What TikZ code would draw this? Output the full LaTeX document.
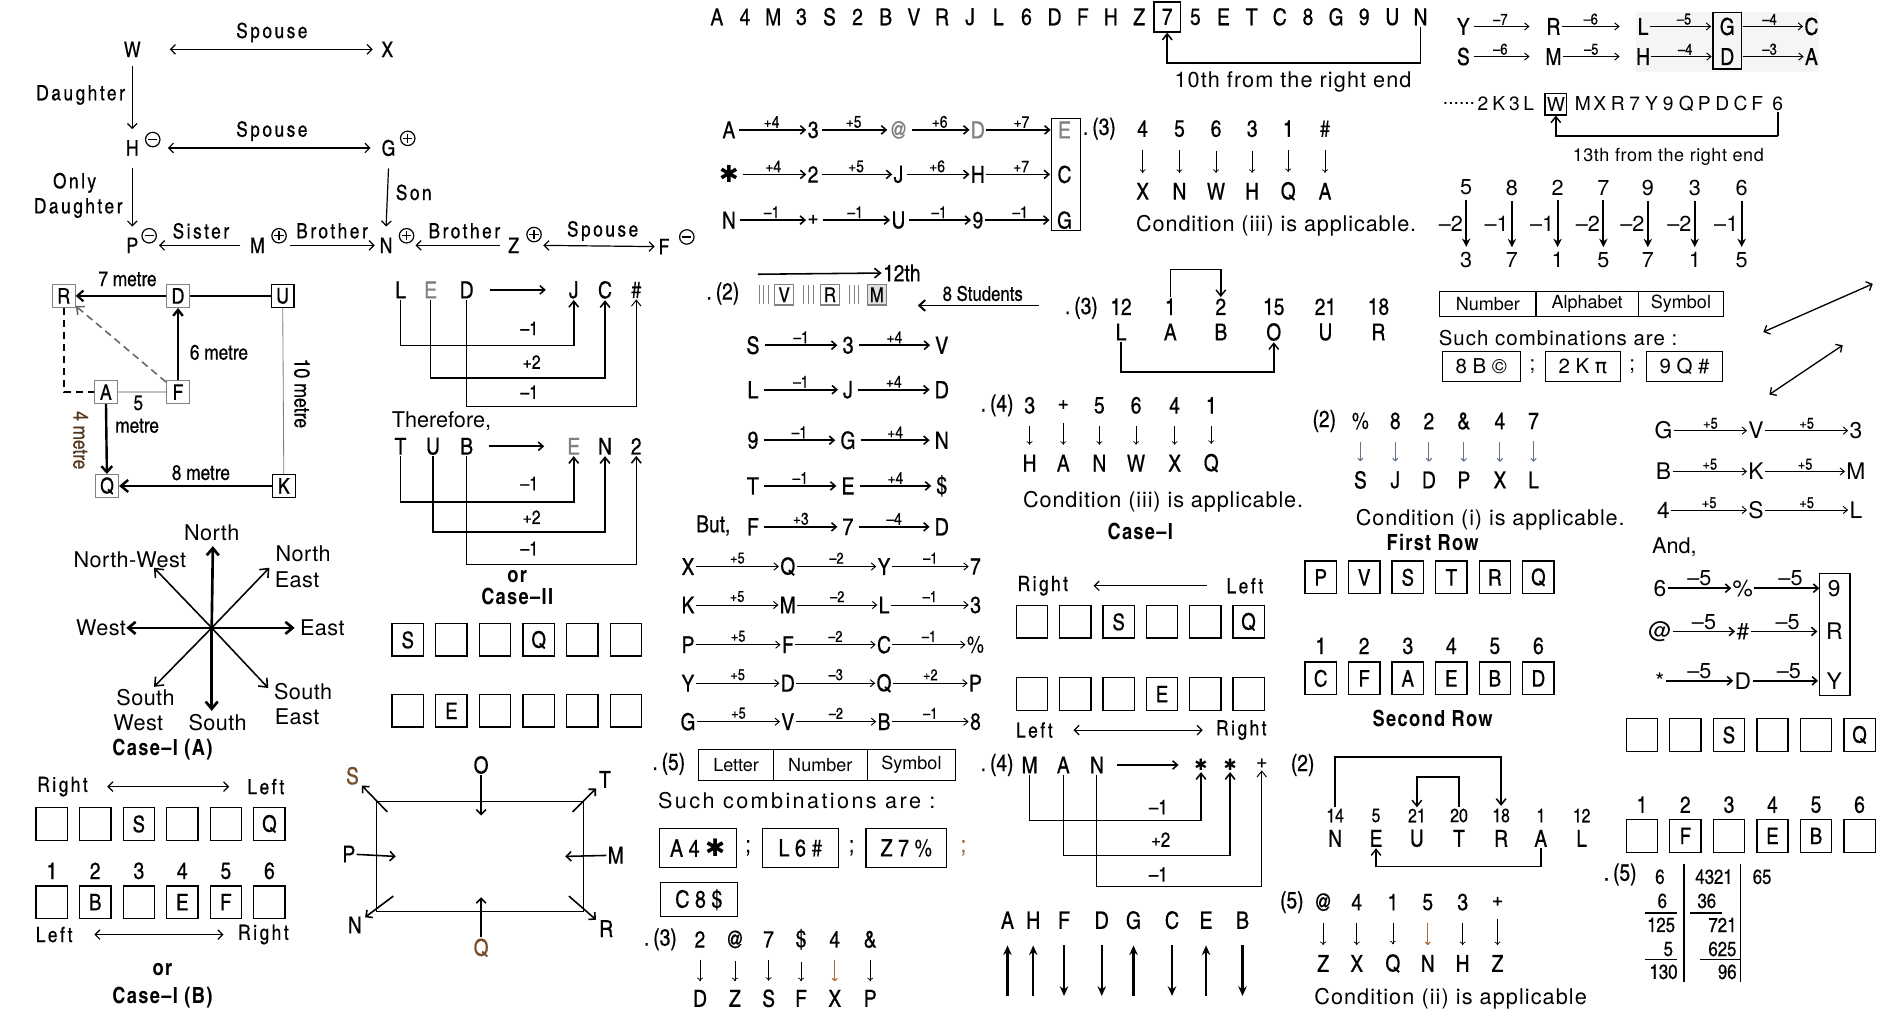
\documentclass[tikz,border=0pt]{standalone}
\usepackage{fontspec}
\setmainfont{TeX Gyre Heros}
\newfontfamily\cn[BoldFont=texgyreheroscn-bold.otf, UprightFeatures={FakeBold=0.4}]{texgyreheroscn-regular.otf}
\newfontfamily\djv{DejaVu Sans}
\usetikzlibrary{arrows.meta,calc}
\definecolor{dnblue}{RGB}{100,115,140}
\definecolor{brn}{RGB}{170,110,60}
\newcommand\myfs[1]{\fontsize{#1}{#1}\selectfont}
\newcommand\myls[1]{\addfontfeatures{LetterSpace=#1}}
\tikzset{
 every node/.style={inner sep=1pt},
 ch/.style={font=\cn\myfs{18}},
 chl/.style={font=\cn\myfs{19.5}},
 chs/.style={font=\cn\myfs{16}},
 sp/.style={font=\cn\myfs{17.5}\myls{12}},
 cb/.style={font=\cn\bfseries\myfs{18.5}\myls{6}},
 rg/.style={font=\myfs{#1}},
 rgs/.style 2 args={font=\myfs{#1}\myls{#2}},
 lb/.style={font=\cn\myfs{14}},
 lbs/.style={font=\cn\myfs{13}},
 bx/.style={draw, line width=1.1pt, minimum width=26pt, minimum height=27pt, inner sep=0pt, font=\cn\myfs{19}},
 sbx/.style={draw, line width=1pt, minimum width=19pt, minimum height=19pt, inner sep=0pt, font=\cn\myfs{18}},
 ar/.style={-{Straight Barb[length=4pt,width=8pt]}, line width=1pt},
 dar/.style={{Straight Barb[length=4pt,width=8pt]}-{Straight Barb[length=4pt,width=8pt]}, line width=1pt},
 car/.style={-{Straight Barb[length=4pt,width=7pt]}, line width=1.3pt},
 thar/.style={-{Straight Barb[length=3.5pt,width=6pt]}, line width=0.8pt},
 tar/.style={-{Stealth[length=8pt,width=7pt]}, line width=1.8pt},
 dn/.style={-{To[length=3pt,width=5pt]}, line width=0.6pt},
 br/.style={line width=1.3pt, -{Straight Barb[length=5pt,width=8pt]}},
 sgnm/.pic={\draw[line width=1pt] (0,0) circle (6pt); \draw[line width=1.2pt] (-3.8pt,0)--(3.8pt,0);},
 sgnp/.pic={\draw[line width=1pt] (0,0) circle (6pt); \draw[line width=1.1pt] (-3.8pt,0)--(3.8pt,0) (0,-3.8pt)--(0,3.8pt);},
}
\begin{document}
\begin{tikzpicture}[x=1pt,y=-1pt]
\fill[white] (0,0) rectangle (1568,847);
\useasboundingbox (0,0) rectangle (1568,847);

% ===== Family tree =====
\node[ch] (W) at (110,41) {W};
\node[ch] (X) at (322,41) {X};
\node[ch] (H) at (110,123) {H};
\node[ch] (G) at (323,123) {G};
\node[ch] (P) at (110,204) {P};
\node[ch] (M) at (214,204) {M};
\node[ch] (N) at (321,204) {N};
\node[ch] (Z) at (427,204) {Z};
\node[ch] (F) at (552,205) {F};
\node[sp] (ft1) at (226,27) {Spouse};
\node[sp] (ft2) at (226,109) {Spouse};
\node[sp] (ft3) at (67,79) {Daughter};
\node[sp] (ft4) at (62,152) {Only};
\node[sp] (ft5) at (65,173) {Daughter};
\node[sp] (ft6) at (344,160) {Son};
\node[sp] (ft7) at (167,192) {Sister};
\node[sp] (ft8) at (276,192) {Brother};
\node[sp] (ft9) at (386,192) {Brother};
\node[sp] (ft10) at (501,192) {Spouse};
\pic at (127,116) {sgnm};
\pic at (339,115) {sgnp};
\pic at (124,196) {sgnm};
\pic at (232,196) {sgnp};
\pic at (338,196) {sgnp};
\pic at (444,195) {sgnp};
\pic at (571,197) {sgnm};
\draw[dar] ([xshift=23pt]W.east) -- ([xshift=-6pt]X.west);
\draw[dar] ([xshift=23pt]H.east) -- ([xshift=-8pt]G.west);
\draw[ar] ([yshift=-6pt]W.south) -- ([yshift=8pt]H.north);
\draw[ar] ([yshift=-9pt]H.south) -- ([yshift=8pt]P.north);
\draw[ar] ([yshift=-9pt]G.south) -- ([yshift=8pt]N.north);
\draw[ar] ([xshift=-7pt]M.west) -- ([xshift=16pt]P.east);
\draw[ar] ([xshift=20pt]M.east) -- ([xshift=-3pt]N.west);
\draw[ar] ([xshift=-6pt]Z.west) -- ([xshift=18pt]N.east);
\draw[dar] ([xshift=19pt]Z.east) -- ([xshift=-2pt]F.west);

% ===== Distance diagram =====
\node[sbx, draw=gray] (bR) at (53,246) {R};
\node[sbx, draw=gray] (bD) at (148,246) {D};
\node[sbx] (bU) at (235,246) {U};
\node[sbx, draw=gray] (bA) at (88,326) {A};
\node[sbx, draw=gray] (bF) at (148,326) {F};
\node[sbx, draw=gray] (bQ) at (89,404) {Q};
\node[sbx] (bK) at (236,404) {K};
\draw[line width=1.8pt, -{Straight Barb[length=5pt,width=9pt]}] (bD) -- (bR);
\draw[line width=2pt] (bD) -- (bU);
\draw[line width=0.7pt, gray] (bU) -- (bK);
\draw[line width=2pt, -{Straight Barb[length=6pt,width=10pt]}] (bK) -- (bQ);
\draw[line width=2pt, -{Straight Barb[length=5pt,width=8pt]}] (bF) -- (bD);
\draw[dash pattern=on 6pt off 4pt, line width=1.3pt, gray!80!black, -{Straight Barb[length=5pt,width=9pt]}] (bF) -- (bR);
\draw[dash pattern=on 6pt off 4pt, line width=1.3pt] (bR.south) |- (bA.west);
\draw[line width=1.2pt, gray!50] (bA) -- (bF);
\draw[line width=2pt, -{Straight Barb[length=5pt,width=9pt]}] (bA) -- (bQ);
\node[font=\cn\myfs{17.5}] (dl1) at (106,232) {7 metre};
\node[font=\cn\myfs{17.5}] (dl2) at (182,293) {6 metre};
\node[font=\cn\myfs{18}, rotate=-90] (dl3) at (251,327) {10 metre};
\node[font=\cn\myfs{17.5}] (dl4) at (115,335) {5};
\node[font=\cn\myfs{17.5}] (dl5) at (114,354) {metre};
\node[font=\cn\myfs{17.5}, rotate=-90, text=brn!50!black] (dl6) at (67,366) {4 metre};
\node[font=\cn\myfs{17.5}] (dl7) at (167,393) {8 metre};

% ===== LED -> JC# =====
\node[chl] (l1) at (333,241) {L};
\node[chl, text=gray] (l2) at (358,241) {E};
\node[chl] (l3) at (388,241) {D};
\node[chl] (j1) at (477,241) {J};
\node[chl] (j2) at (503,241) {C};
\node[chl] (j3) at (529,241) {\#};
\draw[car, shorten <=12pt, shorten >=18pt] (l3) -- (j1);
\draw[br] (l1.south) -- ++(0,38) -| (j1.south);
\draw[br] (l2.south) -- ++(0,65) -| (j2.south);
\draw[br, line width=0.8pt] (l3.south) -- ++(0,89) -| (j3.south);
\node[chs] (lb1) at (440,273) {–1};
\node[chs] (lb2) at (442,301) {+2};
\node[chs] (lb3) at (440,326) {–1};
\node[rg=18] (thf) at (367,350) {Therefore,};
\node[chl] (u1) at (333,371) {T};
\node[chl] (u2) at (360,371) {U};
\node[chl] (u3) at (388,371) {B};
\node[chl, text=gray] (v1) at (477,371) {E};
\node[chl] (v2) at (503,371) {N};
\node[chl] (v3) at (529,371) {2};
\draw[car, shorten <=12pt, shorten >=18pt] (u3) -- (v1);
\draw[br] (u1.south) -- ++(0,38) -| (v1.south);
\draw[br] (u2.south) -- ++(0,63) -| (v2.south);
\draw[br] (u3.south) -- ++(0,90) -| (v3.south);
\node[chs] (lb4) at (440,402) {–1};
\node[chs] (lb5) at (442,430) {+2};
\node[chs] (lb6) at (440,456) {–1};
\node[cb] (or1) at (430,479) {or};
\node[cb] (cs2) at (430,496) {Case–II};
\foreach \t [count=\i from 0] in {S,{},{},Q,{},{}} \node[bx] (cb1\i) at (339+36.3*\i,532) {\t};
\foreach \t [count=\i from 0] in {{},E,{},{},{},{}} \node[bx] (cb2\i) at (339+36.3*\i,591) {\t};

% ===== Compass =====
\coordinate (cc) at (176,522);
\coordinate (cN) at (177,454); \coordinate (cS) at (176,591);
\coordinate (cE) at (245,522); \coordinate (cW) at (105,522);
\coordinate (cNE) at (224,472); \coordinate (cNW) at (128,472);
\coordinate (cSE) at (223,572); \coordinate (cSW) at (128,571);
\foreach \d in {cN,cS,cE,cW} \draw[line width=2.2pt, -{Straight Barb[length=6pt,width=10pt]}] (cc) -- (\d);
\foreach \d in {cNE,cNW,cSE,cSW} \draw[line width=1.3pt, -{Straight Barb[length=6pt,width=10pt]}] (cc) -- (\d);
\node[rgs={18}{2}] (k1) at (176,443) {North};
\node[rgs={18}{2}] (k2) at (108,465) {North-West};
\node[rgs={18}{2}] (k3) at (252,460) {North};
\node[rgs={18}{2}] (k4) at (247,482) {East};
\node[rgs={18}{2}] (k5) at (84,522) {West};
\node[rgs={18}{2}] (k6) at (268,522) {East};
\node[rgs={18}{2}] (k7) at (121,580) {South};
\node[rgs={18}{2}] (k8) at (115,601) {West};
\node[rgs={18}{2}] (k9) at (181,601) {South};
\node[rgs={18}{2}] (k10) at (252,575) {South};
\node[rgs={18}{2}] (k11) at (247,596) {East};
\node[cb] (csA) at (135,623) {Case–I (A)};

% ===== Case-I (A)/(B) boxes =====
\node[sp] (ra1) at (52,654) {Right};
\node[sp] (ra2) at (221,654) {Left};
\draw[dar] ([xshift=15pt]ra1.east) -- ([xshift=-14pt]ra2.west);
\foreach \t [count=\i from 0] in {{},{},S,{},{},Q} \node[bx] (ca\i) at (43+36.2*\i,685) {\t};
\foreach \i in {1,...,6} \node[chl] (can\i) at (43+36.2*\i-36.2,724) {\i};
\foreach \t [count=\i from 0] in {{},B,{},E,F,{}} \node[bx] (cd\i) at (43+36.2*\i,750) {\t};
\node[sp] (rb1) at (45,777) {Left};
\node[sp] (rb2) at (219,777) {Right};
\draw[dar] ([xshift=17pt]rb1.east) -- ([xshift=-11pt]rb2.west);
\node[cb] (or2) at (135,806) {or};
\node[cb] (csB) at (135,829) {Case–I (B)};

% ===== Rectangle diagram =====
\draw[line width=0.8pt] (313,666) rectangle (485,758);
\node[chl, text=brn!70!black] (nS) at (293,645) {S};
\node[chl] (nO) at (400,636) {O};
\node[chl] (nT) at (503,648) {T};
\node[chl] (nP) at (290,710) {P};
\node[chl] (nM) at (512,711) {M};
\node[chl] (nN) at (295,769) {N};
\node[chl, text=brn!70!black] (nQ) at (400,788) {Q};
\node[chl] (nR) at (504,772) {R};
\coordinate (qS) at (322,675); \coordinate (qO) at (400,678);
\coordinate (qT) at (476,675); \coordinate (qP) at (329,712);
\coordinate (qM) at (470,712); \coordinate (qN) at (327,745);
\coordinate (qQ) at (400,746); \coordinate (qR) at (473,745);
\draw[ar, line width=1.3pt, shorten >=2pt] (qS) -- (nS);
\draw[ar, line width=1.3pt] (nO) -- (qO);
\draw[ar, line width=1.3pt, shorten >=2pt] (qT) -- (nT);
\draw[ar, line width=1.3pt] (nP) -- (qP);
\draw[ar, line width=1.3pt] (nM) -- (qM);
\draw[ar, line width=1.3pt, shorten >=2pt] (qN) -- (nN);
\draw[ar, line width=1.3pt] (nQ) -- (qQ);
\draw[ar, line width=1.3pt, shorten >=2pt] (qR) -- (nR);

% ===== Top string =====
\foreach \c [count=\i from 0] in {A,4,M,3,S,2,B,V,R,J,L,6,D,F,H,Z,7,5,E,T,C,8,G,9,U,N} \node[chl] (s\i) at (596+23.4*\i,14) {\c};
\node[draw, line width=1.2pt, minimum width=22pt, minimum height=25pt, inner sep=0] (s7box) at (s16) {};
\draw[line width=1.3pt, -{Straight Barb[length=5pt,width=8pt]}] (s25.south) -- ++(0,30) -| (s7box.south);
\node[rgs={18}{5}] (tenth) at (1075,68) {10th from the right end};

% ===== A..E chains =====
\node[chl] (e11) at (606,108) {A};
\node[chl] (e12) at (676,108) {3};
\node[chl, text=gray] (e13) at (747,108) {@};
\node[chl, text=gray] (e14) at (813,108) {D};
\node[chl, text=gray] (e15) at (885,108) {E};
\node[chl] (e21) at (606,145) {\djv\bfseries ✱};
\node[chl] (e22) at (676,145) {2};
\node[chl] (e23) at (747,145) {J};
\node[chl] (e24) at (813,145) {H};
\node[chl] (e25) at (885,145) {C};
\node[chl] (e31) at (606,183) {N};
\node[chl] (e32) at (676,183) {+};
\node[chl] (e33) at (747,183) {U};
\node[chl] (e34) at (813,183) {9};
\node[chl] (e35) at (885,183) {G};
\node[draw, line width=1pt, minimum width=24pt, minimum height=93pt, inner sep=0] (ebox) at (886,145) {};
\foreach \r/\la/\lb/\lc/\ld in {1/+4/+5/+6/+7, 2/+4/+5/+6/+7, 3/–1/–1/–1/–1} {
  \draw[car, shorten <=2pt] (e\r1) -- node[lb,above]{\la} (e\r2);
  \draw[car, shorten <=2pt] (e\r2) -- node[lb,above]{\lb} (e\r3);
  \draw[car, shorten <=2pt] (e\r3) -- node[lb,above]{\lc} (e\r4);
  \draw[car, shorten >=5pt] (e\r4) -- node[lb,above]{\ld} (e\r5);
}

% ===== (3) 4 5 6 3 1 # =====
\node[chl] (q3) at (914,107) {.\,(3)};
\foreach \x/\a/\b [count=\i] in {950/4/X, 980.6/5/N, 1011/6/W, 1041/3/H, 1071/1/Q, 1101.6/\#/A} {
  \node[chl] (qa\i) at (\x,107) {\a};
  \node[chl] (qb\i) at (\x,159) {\b};
  \draw[dn, shorten <=10pt, shorten >=7pt] (qa\i) -- (qb\i);
}
\node[rgs={18}{4}] (cond1) at (1061,188) {Condition (iii) is applicable.};

% ===== 12th / (2) row =====
\node[chl, anchor=west] (t12) at (733,227) {12th};
\coordinate (t12s) at (630,228);
\draw[line width=1.3pt, -{Straight Barb[length=5pt,width=8pt]}] (t12s) -- (t12.west);
\node[chl] (p2) at (601,244) {.\,(2)};
\foreach \x in {631,635,639,668,672,676,706,710,714} \draw[gray, line width=0.6pt] (\x,237) -- (\x,253);
\node[draw=gray, line width=1pt, minimum width=16pt, minimum height=17pt, inner sep=0, font=\cn\myfs{17}] (bv) at (652,245) {V};
\node[draw=gray, line width=1pt, minimum width=16pt, minimum height=17pt, inner sep=0, font=\cn\myfs{17}] (brr) at (690,245) {R};
\node[draw=gray, fill=gray!25, line width=1pt, minimum width=16pt, minimum height=17pt, inner sep=0, font=\cn\myfs{17}] (bm) at (729,245) {M};
\node[font=\cn\myfs{17}] (st8) at (817,244) {8 Students};
\coordinate (st8a) at (864,254); \coordinate (st8b) at (763,254);
\draw[line width=1.6pt, -{Straight Barb[length=5pt,width=9pt]}] (st8a) -- (st8b);

% ===== S/L/9/T rows =====
\foreach \y/\a/\b/\c/\la/\lb [count=\i] in {287/S/3/V/–1/+4, 324/L/J/D/–1/+4, 366/9/G/N/–1/+4, 404/T/E/\$/–1/+4, 438/F/7/D/+3/–4} {
  \node[font=\cn\myfs{20}] (sa\i) at (626,\y) {\a};
  \node[font=\cn\myfs{20}] (sb\i) at (705,\y) {\b};
  \node[font=\cn\myfs{20}] (sc\i) at (783,\y) {\c};
  \draw[car, shorten <=3pt, shorten >=3pt] (sa\i) -- node[lb,above]{\la} (sb\i);
  \draw[car, shorten <=3pt, shorten >=3pt] (sb\i) -- node[lb,above]{\lb} (sc\i);
}
\node[chl] (but) at (593,437) {But,};

% ===== X..G rows =====
\foreach \y/\a/\b/\c/\d/\la/\lb/\lc [count=\i] in {471/X/Q/Y/7/+5/–2/–1, 503/K/M/L/3/+5/–2/–1, 536/P/F/C/\%/+5/–2/–1, 568/Y/D/Q/P/+5/–3/+2, 600/G/V/B/8/+5/–2/–1} {
  \node[chl] (xa\i) at (572,\y) {\a};
  \node[chl] (xb\i) at (655,\y) {\b};
  \node[chl] (xc\i) at (735,\y) {\c};
  \node[chl] (xd\i) at (811,\y) {\d};
  \draw[thar] (xa\i) -- node[lbs,above=1pt]{\la} (xb\i);
  \draw[thar] (xb\i) -- node[lbs,above=1pt]{\lb} (xc\i);
  \draw[thar] (xc\i) -- node[lbs,above=1pt]{\lc} (xd\i);
}

% ===== Letter/Number/Symbol =====
\node[chl] (p5) at (556,635) {.\,(5)};
\node[draw, line width=0.9pt, minimum width=62pt, minimum height=26pt, inner sep=0, rg=15] (tl1) at (612,636) {Letter};
\node[draw, line width=0.9pt, minimum width=78pt, minimum height=26pt, inner sep=0, rg=15] (tl2) at (682,636) {Number};
\node[draw, line width=0.9pt, minimum width=73.5pt, minimum height=26pt, inner sep=0, rg=15] (tl3) at (757.75,636) {Symbol};
\node[rgs={18}{11}, anchor=west] (such1) at (546,666) {Such combinations are :};
\node[draw, line width=1pt, minimum width=64pt, minimum height=32pt, inner sep=0, font=\cn\myfs{20}] (cm1) at (580,705) {A 4 {\djv ✱}};
\node[chl] (sm1) at (622,705) {;};
\node[draw, line width=1pt, minimum width=63pt, minimum height=32pt, inner sep=0, font=\cn\myfs{20}] (cm2) at (665.5,705) {L 6 \#};
\node[chl] (sm2) at (708,705) {;};
\node[draw, line width=1pt, minimum width=67pt, minimum height=32pt, inner sep=0, font=\cn\myfs{20}] (cm3) at (753.5,705) {Z 7 \%};
\node[chl, text=brn] (sm3) at (801,705) {;};
\node[draw, line width=1pt, minimum width=64pt, minimum height=28pt, inner sep=0, font=\cn\myfs{20}] (cm4) at (581,748) {C 8 \$};

% ===== (3) 2 @ 7 $ 4 & =====
\node[chl] (p3b) at (549,781) {.\,(3)};
\foreach \x/\a/\b [count=\i] in {582/2/D, 611/@/Z, 639/7/S, 666/\$/F, 694/4/X, 723.5/\&/P} {
  \node[chl] (ra\i) at (\x,781) {\a};
  \node[chl] (rb\i) at (\x,830) {\b};
}
\foreach \i in {1,2,3,4,6} \draw[dn, shorten <=9pt, shorten >=6pt] (ra\i) -- (rb\i);
\draw[dn, draw=brn, line width=1pt, shorten <=9pt, shorten >=6pt] (ra5) -- (rb5);

% ===== LABOUR =====
\node[chl] (lab0) at (899,256) {.\,(3)};
\foreach \x/\n/\l [count=\i] in {932/12/L, 973/1/A, 1015/2/B, 1059/15/O, 1102/21/U, 1146/18/R} {
  \node[chl] (lbn\i) at (\x,255) {\n};
  \node[chl] (lbl\i) at (\x,276) {\l};
}
\draw[br, line width=1.2pt] (lbn2.north) -- ++(0,-23) -| (lbn3.north);
\draw[br, line width=1.2pt] (lbl1.south) -- ++(0,25) -| (lbl4.south);

% ===== (4) 3 + 5 6 4 1 =====
\node[chl] (h40) at (829,337) {.\,(4)};
\foreach \x/\a/\b [count=\i] in {856/3/H, 884/+/A, 914/5/N, 944.5/6/W, 976.6/4/X, 1007/1/Q} {
  \node[chl] (ha\i) at (\x,337) {\a};
  \node[chl] (hb\i) at (\x,385) {\b};
  \draw[dn, shorten <=9pt, shorten >=7pt] (ha\i) -- (hb\i);
}
\node[rgs={18}{4}] (cond2) at (967,417) {Condition (iii) is applicable.};
\node[cb] (csI) at (948,442) {Case–I};
\node[sp] (ri1) at (867,487) {Right};
\node[sp] (le1) at (1035,487) {Left};
\draw[ar] ([xshift=-15pt]le1.west) -- ([xshift=20pt]ri1.east);
\foreach \t [count=\i from 0] in {{},{},S,{},{},Q} \node[bx] (ci\i) at (858+36*\i,517) {\t};
\foreach \t [count=\i from 0] in {{},{},{},E,{},{}} \node[bx] (cj\i) at (858+36*\i,577) {\t};
\node[sp] (le2) at (860,607) {Left};
\node[sp] (ri2) at (1032,607) {Right};
\draw[dar] ([xshift=16pt]le2.east) -- ([xshift=-10pt]ri2.west);

% ===== MAN =====
\node[chl] (mm0) at (829,636) {.\,(4)};
\node[chl] (ma1) at (856,636) {M};
\node[chl] (ma2) at (884,636) {A};
\node[chl] (ma3) at (912,636) {N};
\node[font=\djv\myfs{13}] (mb1) at (998.5,636) {✱};
\node[font=\djv\myfs{13}] (mb2) at (1022.7,636) {✱};
\node[chl] (mb3) at (1049,635) {+};
\draw[car, shorten <=10pt, shorten >=12pt] (ma3) -- (mb1);
\draw[br] (ma1.south) -- ++(0,38) -| (mb1.south);
\draw[br] (ma2.south) -- ++(0,67) -| (mb2.south);
\draw[br, line width=0.8pt] (ma3.south) -- ++(0,93) -| (mb3.south);
\node[font=\cn\myfs{17}] (ml1) at (963,671) {–1};
\node[font=\cn\myfs{17}] (ml2) at (965,698) {+2};
\node[font=\cn\myfs{17}] (ml3) at (963,727) {–1};

% ===== AHFDGCEB =====
\foreach \x/\t [count=\i] in {837.6/A, 859/H, 884.6/F, 916/D, 942.4/G, 974.4/C, 1002.7/E, 1033/B} {
  \node[font=\cn\myfs{20}] (ah\i) at (\x,765) {\t};
  \coordinate (aht\i) at (\x,786);
  \coordinate (ahb\i) at (\x,828);
}
\foreach \i in {1,2,5,7} \draw[tar] (ahb\i) -- (aht\i);
\foreach \i in {3,4,6,8} \draw[tar] (aht\i) -- (ahb\i);

% ===== Y/S chains top right =====
\fill[gray!8] (1360,10) rectangle (1512,60);
\node[draw, line width=1.2pt, minimum width=24pt, minimum height=47pt, inner sep=0] (gdbox) at (1436,34) {};
\foreach \r/\y/\a/\b/\c/\d/\e/\la/\lb/\lc/\ld in {1/22/Y/R/L/G/C/–7/–6/–5/–4, 2/47/S/M/H/D/A/–6/–5/–4/–3} {
  \node[chl] (y\r1) at (1216.6,\y) {\a};
  \node[chl] (y\r2) at (1291.5,\y) {\b};
  \node[chl] (y\r3) at (1366,\y) {\c};
  \node[chl] (y\r4) at (1436,\y) {\d};
  \node[chl] (y\r5) at (1506,\y) {\e};
  \draw[thar, shorten <=2pt] (y\r1) -- node[lbs,above]{\la} ++(55,0);
  \draw[thar] (y\r2) -- node[lbs,above]{\lb} ++(55,0);
  \draw[thar, shorten >=6pt] (y\r3) -- node[lbs,above]{\lc} (y\r4);
  \draw[thar, shorten <=6pt] (y\r4) -- node[lbs,above]{\ld} (y\r5);
}

% ===== ...2K3L W MXR... =====
\node[rg=16] (dots) at (1213,86) {......};
\foreach \x/\c [count=\i] in {1233/2, 1246/K, 1259/3, 1271/L, 1316/M, 1330/X, 1345/R, 1359/7, 1373/Y, 1387/9, 1402/Q, 1417/P, 1432/D, 1447/C, 1461/F, 1478/6} \node[rg=16] (ws\i) at (\x,86) {\c};
\node[draw, line width=1.1pt, minimum width=18pt, minimum height=18pt, inner sep=0, rg=16] (wbox) at (1293.5,86.5) {W};
\draw[line width=2pt] (ws16.south) -- ++(0,20);
\draw[line width=1.2pt, -{Straight Barb[length=5pt,width=8pt]}] ([yshift=-20pt]ws16.south) -| (wbox.south);
\node[rgs={15}{3}] (thir) at (1387,130) {13th from the right end};

% ===== 5 8 2 7 9 3 6 =====
\foreach \x/\a/\l/\b [count=\i] in {1219/5/–2/3, 1257/8/–1/7, 1295/2/–1/1, 1333/7/–2/5, 1370/9/–2/7, 1409/3/–2/1, 1448/6/–1/5} {
  \node[rg=18] (na\i) at (\x,156) {\a};
  \node[rg=18] (nb\i) at (\x,216) {\b};
  \draw[line width=1.6pt, -{Stealth[length=7pt,width=7pt]}, shorten <=3pt, shorten >=3pt] (na\i) -- node[rg=18, left=1pt]{\l} (nb\i);
}

% ===== Number/Alphabet/Symbol =====
\node[draw, line width=0.9pt, minimum width=80pt, minimum height=21pt, inner sep=0, rg=15] (nt1) at (1237,252.5) {Number};
\node[draw, line width=0.9pt, minimum width=85pt, minimum height=21pt, inner sep=0, rg=15] (nt2) at (1319.5,252.5) {Alphabet};
\node[draw, line width=0.9pt, minimum width=71pt, minimum height=21pt, inner sep=0, rg=15] (nt3) at (1397.5,252.5) {Symbol};
\node[rgs={17}{5}, anchor=west] (such2) at (1195,281) {Such combinations are :};
\node[draw, line width=1pt, minimum width=65pt, minimum height=25pt, inner sep=0, rg=17] (nc1) at (1231.5,304.5) {8 B ©};
\node[rg=17] (nsm1) at (1274,304.5) {;};
\node[draw, line width=1pt, minimum width=62pt, minimum height=25pt, inner sep=0, rg=17] (nc2) at (1316,304.5) {2 K {\djv π}};
\node[rg=17] (nsm2) at (1357,304.5) {;};
\node[draw, line width=1pt, minimum width=63pt, minimum height=25pt, inner sep=0, rg=17] (nc3) at (1400.5,304.5) {9 Q \#};
\coordinate (da1) at (1466,276); \coordinate (da2) at (1557,236);
\coordinate (da3) at (1471,328); \coordinate (da4) at (1532,287);
\draw[dar, line width=1.1pt] (da1) -- (da2);
\draw[dar, line width=1.1pt] (da3) -- (da4);

% ===== (2) % 8 2 & 4 7 =====
\node[chl] (pp0) at (1101,350) {(2)};
\foreach \x/\a/\b [count=\i] in {1131/\%/S, 1160/8/J, 1188/2/D, 1217/\&/P, 1247/4/X, 1275/7/L} {
  \node[chl] (pa\i) at (\x,350) {\a};
  \node[chl] (pb\i) at (\x,399) {\b};
  \draw[dn, draw=dnblue, line width=0.9pt, shorten <=9pt, shorten >=7pt] (pa\i) -- (pb\i);
}
\node[rgs={18}{4}] (cond3) at (1239,432) {Condition (i) is applicable.};
\node[cb] (fr) at (1191,451) {First Row};
\foreach \t [count=\i from 0] in {P,V,S,T,R,Q} \node[bx] (fa\i) at (1098+36.2*\i,480) {\t};
\foreach \i in {1,...,6} \node[chl] (fn\i) at (1098+36.2*\i-36.2,537) {\i};
\foreach \t [count=\i from 0] in {C,F,A,E,B,D} \node[bx] (fb\i) at (1098+36.2*\i,564) {\t};
\node[cb] (sr) at (1191,597) {Second Row};

% ===== NEUTRAL =====
\node[chl] (ne0) at (1083,636) {(2)};
\foreach \x/\n/\l [count=\i] in {1110/14/N, 1144/5/E, 1178/21/U, 1213/20/T, 1248/18/R, 1281/1/A, 1315/12/L} {
  \node[chs] (nn\i) at (\x,678) {\n};
  \node[chl] (nl\i) at (\x,697) {\l};
}
\draw[br, line width=1.3pt, shorten >=1pt] (nn1.north) -- ++(0,-42) -| (nn5.north);
\draw[br, line width=1.2pt] (nn4.north) -- ++(0,-25) -| (nn3.north);
\draw[br, line width=1.2pt] (nl6.south) -- ++(0,15) -| (nl2.south);

% ===== (5) @ 4 1 5 3 + =====
\node[chl] (fv0) at (1074,750) {(5)};
\foreach \x/\a/\b [count=\i] in {1100/@/Z, 1128/4/X, 1158/1/Q, 1187/5/N, 1216/3/H, 1245/+/Z} {
  \node[chl] (fva\i) at (\x,750) {\a};
  \node[chl] (fvb\i) at (\x,801) {\b};
}
\foreach \i in {1,2,3,5,6} \draw[dn, shorten <=9pt, shorten >=7pt] (fva\i) -- (fvb\i);
\draw[dn, draw=brn, line width=1pt, shorten <=9pt, shorten >=7pt] (fva4) -- (fvb4);
\node[rgs={18}{5}] (cond4) at (1206,830) {Condition (ii) is applicable};

% ===== Column 6 chains =====
\foreach \y/\a/\b/\c [count=\i] in {358/G/V/3, 392/B/K/M, 424/4/S/L} {
  \node[rg=19] (ga\i) at (1383,\y) {\a};
  \node[rg=19] (gb\i) at (1460,\y) {\b};
  \node[rg=19] (gc\i) at (1543,\y) {\c};
  \draw[thar] (ga\i) -- node[lbs,above]{+5} (gb\i);
  \draw[thar] (gb\i) -- node[lbs,above]{+5} (gc\i);
}
\node[rg=18] (and) at (1392,455) {And,};
\node[draw, line width=1pt, minimum width=25pt, minimum height=101pt, inner sep=0] (g9box) at (1525.5,527.5) {};
\foreach \y/\a/\b/\c [count=\i] in {489/6/\%/9, 525/@/\#/R, 566/*/D/Y} {
  \node[rg=19] (ha6\i) at (1380,\y) {\a};
  \node[rg=19] (hb6\i) at (1449,\y) {\b};
  \node[rg=19] (hc6\i) at (1525,\y) {\c};
  \draw[car] (ha6\i) -- node[rg=18,above=0pt]{–5} (hb6\i);
  \draw[car, shorten >=6pt] (hb6\i) -- node[rg=18,above=0pt]{–5} (hc6\i);
}
\foreach \t [count=\i from 0] in {{},{},S,{},{},Q} \node[bx] (gq\i) at (1365+36.2*\i,611) {\t};
\foreach \i in {1,...,6} \node[chl] (gn\i) at (1365+36.2*\i-36.2,669) {\i};
\foreach \t [count=\i from 0] in {{},F,{},E,B,{}} \node[bx] (gr\i) at (1365+36.2*\i,695) {\t};

% ===== Division =====
\node[chl] (dv0) at (1347,727) {.\,(5)};
\node[font=\cn\myfs{17}] (dv1) at (1380,729) {6};
\node[font=\cn\myfs{17}] (dv2) at (1425,729) {4321};
\node[font=\cn\myfs{17}] (dv3) at (1465,729) {65};
\node[font=\cn\myfs{17}] (dv4) at (1382,749) {6};
\node[font=\cn\myfs{17}] (dv5) at (1419,749) {36};
\node[font=\cn\myfs{17}] (dv6) at (1381,769) {125};
\node[font=\cn\myfs{17}] (dv7) at (1432,769) {721};
\node[font=\cn\myfs{17}] (dv8) at (1387,789) {5};
\node[font=\cn\myfs{17}] (dv9) at (1432,789) {625};
\node[font=\cn\myfs{17}] (dv10) at (1383,808) {130};
\node[font=\cn\myfs{17}] (dv11) at (1436,808) {96};
\draw[line width=1pt] (1400,718) -- (1400,816);
\draw[line width=1pt] (1447,718) -- (1447,816);
\draw[line width=1pt] (1368,759) -- (1394,759);
\draw[line width=1pt] (1405,759) -- (1432,759);
\draw[line width=1pt] (1368,798) -- (1394,798);
\draw[line width=1pt] (1413,798) -- (1447,798);
\end{tikzpicture}
\end{document}
